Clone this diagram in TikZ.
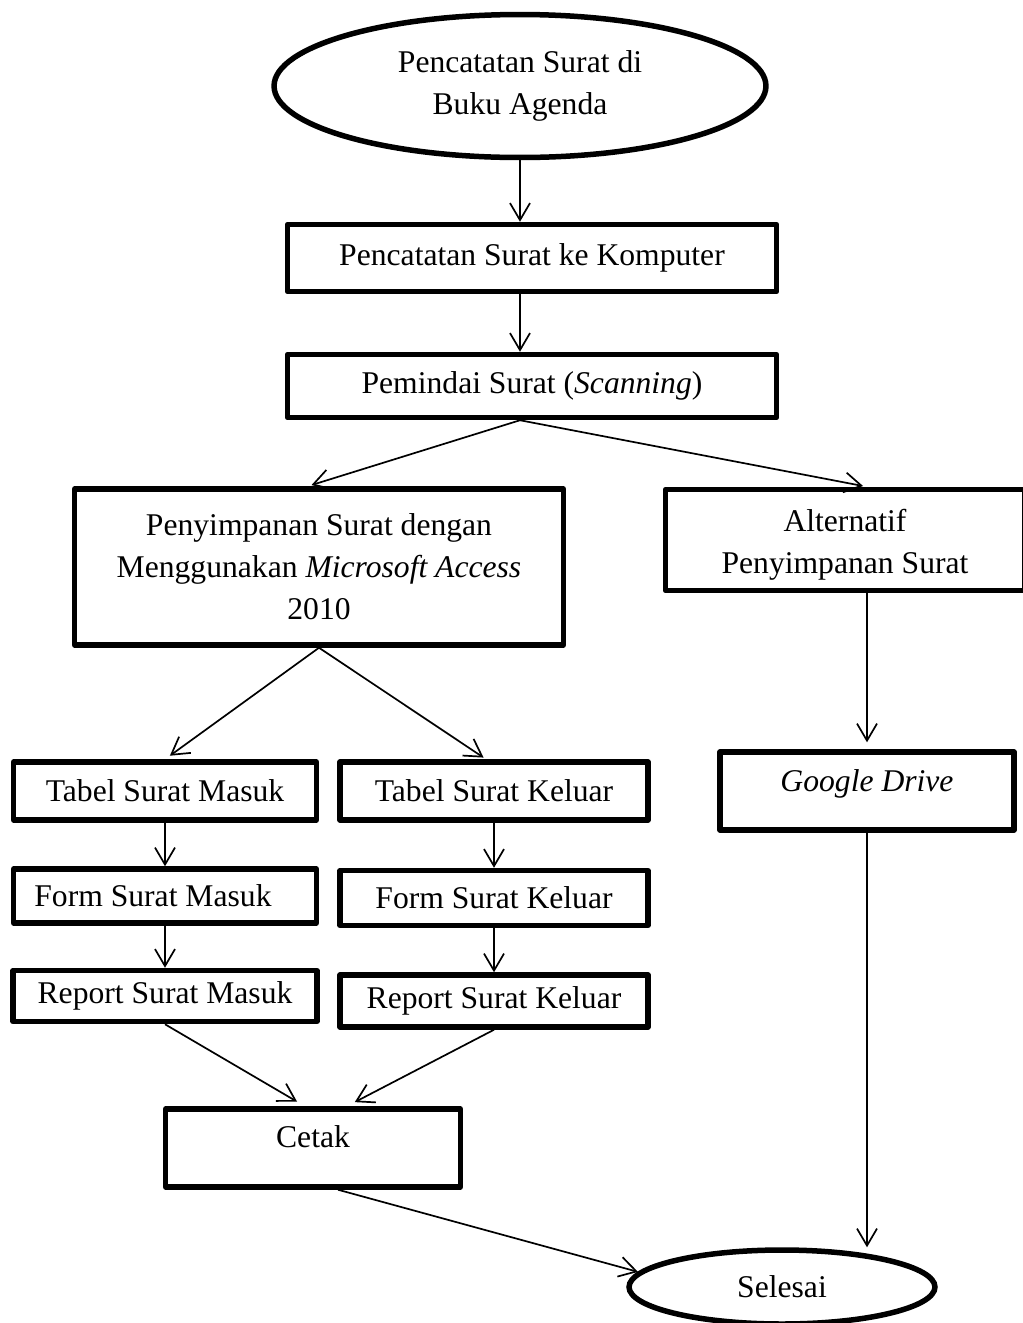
\documentclass[tikz,border=0pt]{standalone}
\usepackage{fontspec}
\setmainfont{Liberation Serif}
\usepackage{tikz}
\usetikzlibrary{arrows.meta,shapes.geometric}
\usepackage{xcolor}
\definecolor{ink}{RGB}{0,0,0}
\tikzset{
  fbox/.style={draw=ink,line width=0.11cm,line join=round,inner sep=0pt,align=center},
  fterm/.style={ellipse,draw=ink,line width=0.11cm,inner sep=0pt,align=center},
  flow/.style={ink,line width=0.034cm,-{Straight Barb[length=0.34cm,width=0.4cm]}},
}

\begin{document}
\begin{tikzpicture}[x=0.02cm,y=-0.02cm,font=\fontsize{18}{24}\selectfont]
  \useasboundingbox (0,0) rectangle (1022,1323);
  % main column
  \node[fterm,minimum width=9.84cm,minimum height=2.86cm] (agenda) at (520,86)
    {Pencatatan Surat di\\Buku Agenda};
  \node[fbox,minimum width=9.78cm,minimum height=1.34cm] (komputer) at (532,258)
    {Pencatatan Surat ke Komputer};
  \node[fbox,minimum width=9.78cm,minimum height=1.26cm] (scan) at (532,386)
    {Pemindai Surat (\textit{Scanning})};
  \node[fbox,minimum width=9.78cm,minimum height=3.12cm] (access) at (319,567)
    {Penyimpanan Surat dengan\\Menggunakan \textit{Microsoft Access}\\2010};
  \node[fbox,minimum width=7.18cm,minimum height=2.02cm] (alt) at (845,540)
    {\\[-0.2cm]Alternatif\\Penyimpanan Surat};
  \node[fbox,minimum width=5.88cm,minimum height=1.56cm,text depth=0.4cm] (gdrive)
    at (867,791) {\textit{Google Drive}};
  % access objects
  \foreach \nm/\x/\y/\w/\h/\txt in {tabelm/165/791/6.06/1.16/Tabel Surat Masuk,
      formm/165/896/6.06/1.08/\hspace*{-0.48cm}Form Surat Masuk,
      reportm/165/996/6.08/1.02/Report Surat Masuk,
      tabelk/494/791/6.16/1.16/Tabel Surat Keluar,
      formk/494/898/6.16/1.10/Form Surat Keluar,
      reportk/494/1001/6.16/1.04/Report Surat Keluar}
    \node[fbox,minimum width=\w cm,minimum height=\h cm] (\nm) at (\x,\y) {\txt};
  \node[fbox,minimum width=5.9cm,minimum height=1.56cm,text depth=0.46cm] (cetak)
    at (313,1148) {Cetak};
  \node[fterm,minimum width=6.12cm,minimum height=1.48cm] (selesai) at (782,1287)
    {Selesai};
  % connectors
  \draw[flow] (agenda.south) -- (komputer.north -| agenda.south);
  \draw[flow] (komputer.south -| agenda.south) -- (scan.north -| agenda.south);
  \draw[flow,shorten >=0.08cm] (scan.south -| agenda.south) -- (access.98);
  \draw[flow,shorten >=0.08cm] (scan.south -| agenda.south) -- (alt.north -| gdrive.north);
  \draw[flow,shorten >=0.14cm] (alt.south -| gdrive.north) -- (gdrive.north);
  \draw[flow] (gdrive.south) -- (selesai.north -| gdrive.south);
  \draw[flow,shorten >=0.12cm] (access.south) -- (tabelm.north);
  \draw[flow,shorten >=0.06cm] (access.south) -- (tabelk.104);
  \foreach \a/\b in {tabelm/formm,formm/reportm,tabelk/formk,formk/reportk}
    \draw[flow] (\a.south) -- (\b.north);
  \draw[flow,shorten >=0.18cm] (reportm.south) -- (cetak.101);
  \draw[flow,shorten >=0.18cm] (reportk.south) -- (cetak.51);
  \draw[flow] (cetak.-59) -- (selesai.174);
\end{tikzpicture}
\end{document}
